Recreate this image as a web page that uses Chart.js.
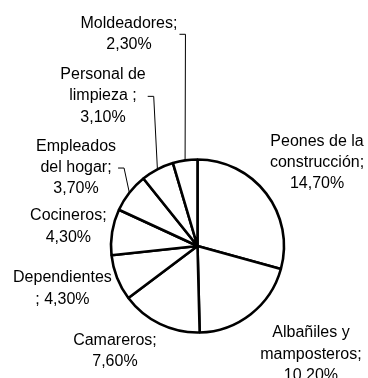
<!DOCTYPE html>
<html>
<head>
<meta charset="utf-8">
<script src="https://cdn.jsdelivr.net/npm/chart.js@4"></script>
<style>
  html, body { margin: 0; padding: 0; background: #ffffff; }
  #grafico { display: block; }
</style>
</head>
<body>
<canvas id="grafico" width="368" height="378"></canvas>
<script>
// Datos del gráfico (ocupaciones y porcentaje)
const categorias = ['Peones de la\nconstrucción', 'Albañiles y\nmamposteros', 'Camareros', 'Dependientes\n', 'Cocineros', 'Empleados\ndel hogar', 'Personal de\nlimpieza ', 'Moldeadores'];
const porcentajes = [14.7, 10.2, 7.6, 4.3, 4.3, 3.7, 3.1, 2.3];
const separadores = ['\n', '\n', '\n', ' ', '\n', '\n', '\n', '\n'];

// Posición de cada etiqueta respecto al borde de su porción (dx, dy)
const desplazamientos = [[50.7, -30.8], [60.2, 40.1], [-44.9, 27.1], [-54.6, 10.8], [-43.8, -5.3], [-53.3, -25.2], [-54.4, -73.5], [-56.1, -126.6]];
const conGuia = [false, false, false, false, false, true, true, true];

const fuente = '16px "Liberation Sans", Arial, sans-serif';
const altoLinea = 21.3;

function textoEtiqueta(i) {
    const valor = porcentajes[i].toFixed(2).replace('.', ',') + '%';
    return (categorias[i] + ';' + separadores[i] + valor).split('\n');
}

// Plugin para dibujar etiquetas y líneas guía
const etiquetas = {
    id: 'etiquetas',
    afterDraw(chart) {
        const ctx = chart.ctx;
        const arcos = chart.getDatasetMeta(0).data;
        ctx.save();
        ctx.font = fuente;
        ctx.fillStyle = '#000000';
        ctx.textAlign = 'center';
        ctx.textBaseline = 'middle';
        arcos.forEach((arco, i) => {
            const { x, y, startAngle, endAngle, outerRadius } = arco.getProps(['x', 'y', 'startAngle', 'endAngle', 'outerRadius'], true);
            const medio = (startAngle + endAngle) / 2;
            const bx = x + Math.cos(medio) * outerRadius;
            const by = y + Math.sin(medio) * outerRadius;
            const cx = bx + desplazamientos[i][0];
            const cy = by + desplazamientos[i][1];
            const lineas = textoEtiqueta(i);
            let ancho = 0;
            lineas.forEach((l, j) => {
                ancho = Math.max(ancho, ctx.measureText(l).width);
                ctx.fillText(l, cx, cy + (j - (lineas.length - 1) / 2) * altoLinea);
            });
            if (conGuia[i]) {
                const x0 = cx + ancho / 2 + 2;
                ctx.beginPath();
                ctx.strokeStyle = '#000000';
                ctx.lineWidth = 1;
                ctx.moveTo(x0, cy + 0.5);
                ctx.lineTo(x0 + 6, cy + 0.5);
                ctx.lineTo(bx, by);
                ctx.stroke();
            }
        });
        ctx.restore();
    }
};

const ctx = document.getElementById('grafico').getContext('2d');
new Chart(ctx, {
    type: 'pie',
    data: {
        labels: categorias,
        datasets: [{
            data: porcentajes,
            backgroundColor: '#ffffff',
            borderColor: '#000000',
            borderWidth: 2.6,
            hoverOffset: 0
        }]
    },
    options: {
        responsive: false,
        devicePixelRatio: 1,
        animation: false,
        radius: 86.5,
        layout: { padding: { left: 109.5, right: 82.5, top: 158, bottom: 44 } },
        plugins: {
            legend: { display: false },
            tooltip: { enabled: false }
        }
    },
    plugins: [etiquetas]
});
</script>
</body>
</html>
